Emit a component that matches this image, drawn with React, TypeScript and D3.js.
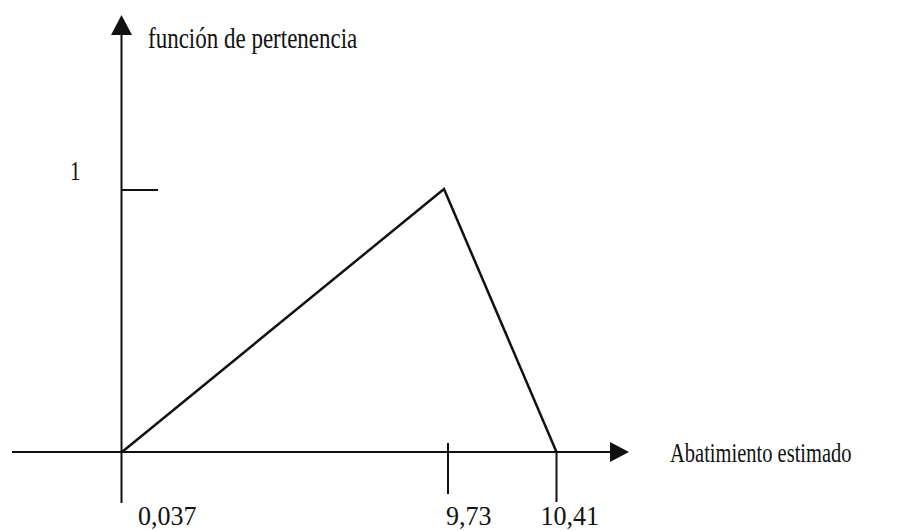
import React from "react";
import * as d3 from "d3";

// Fuzzy triangular membership function
const xValues = [0.037, 9.73, 10.41];
const membership = [0, 1, 0];
const xTickLabels = ["0,037", "9,73", "10,41"];
const yTickValues = [1];
const yTickLabels = ["1"];
const yAxisTitle = "función de pertenencia";
const xAxisTitle = "Abatimiento estimado";

const W = 918;
const H = 531;
const FONT = "'Liberation Serif', 'Times New Roman', serif";

export default function App() {
  // Diagram is schematic (not to scale): piecewise linear x scale
  const x = d3.scaleLinear().domain(xValues).range([122, 444, 556.5]);
  const y = d3.scaleLinear().domain([0, 1]).range([452, 189]);

  const line = d3
    .line<number>()
    .x((_, i) => x(xValues[i]))
    .y((d) => y(d));

  const axisX = x(xValues[0]) - 0.5;
  const axisY = y(0);
  const stroke = "#111";
  const sw = 2;

  const tickLenDown = [51, 42, 50];
  const tickLenUp = [0, 9, 0];
  const tickOffset = [0, 4, 0];

  return (
    <svg
      width={W}
      height={H}
      style={{ position: "absolute", left: 0, top: 0, background: "#fff" }}
    >
      <rect x={0} y={0} width={W} height={H} fill="#fff" />
      {/* y axis */}
      <line x1={axisX} y1={axisY + 51} x2={axisX} y2={30} stroke={stroke} strokeWidth={sw} />
      <path
        d={`M${axisX},15 L${axisX - 10.5},35 L${axisX + 10.5},35 Z`}
        fill={stroke}
      />
      {/* x axis */}
      <line x1={12} y1={axisY} x2={615} y2={axisY} stroke={stroke} strokeWidth={sw} />
      <path
        d={`M629,${axisY} L610,${axisY - 10} L610,${axisY + 10} Z`}
        fill={stroke}
      />
      {/* y ticks */}
      {yTickValues.map((v, i) => (
        <g key={"yt" + i}>
          <line x1={axisX} x2={158} y1={y(v) + 1} y2={y(v) + 1} stroke={stroke} strokeWidth={sw} />
          <text
            transform={`translate(70,${y(v) - 9}) scale(1,1.3)`}
            fontFamily={FONT}
            fontSize={21}
            fill={stroke}
          >
            {yTickLabels[i]}
          </text>
        </g>
      ))}
      {/* x ticks */}
      {xValues.map((v, i) => {
        const tx = x(v) + tickOffset[i];
        return (
          <g key={"xt" + i}>
            {i > 0 && (
              <line
                x1={tx}
                x2={tx}
                y1={axisY - tickLenUp[i]}
                y2={axisY + tickLenDown[i]}
                stroke={stroke}
                strokeWidth={sw}
              />
            )}
            <text
              transform={`translate(${tx + (i === 0 ? 16 : i === 1 ? -2 : -16)},525) scale(1,1.05)`}
              fontFamily={FONT}
              fontSize={26}
              fill={stroke}
            >
              {xTickLabels[i]}
            </text>
          </g>
        );
      })}
      {/* membership function */}
      <path d={line(membership) || ""} fill="none" stroke={stroke} strokeWidth={2.5} strokeLinejoin="miter" />
      {/* titles */}
      <text
        transform={`translate(148,48) scale(1,1.3)`}
        fontFamily={FONT}
        fontSize={23}
        fill={stroke}
      >
        {yAxisTitle}
      </text>
      <text
        transform={`translate(670,462) scale(1,1.3)`}
        fontFamily={FONT}
        fontSize={20.5}
        fill={stroke}
      >
        {xAxisTitle}
      </text>
    </svg>
  );
}
